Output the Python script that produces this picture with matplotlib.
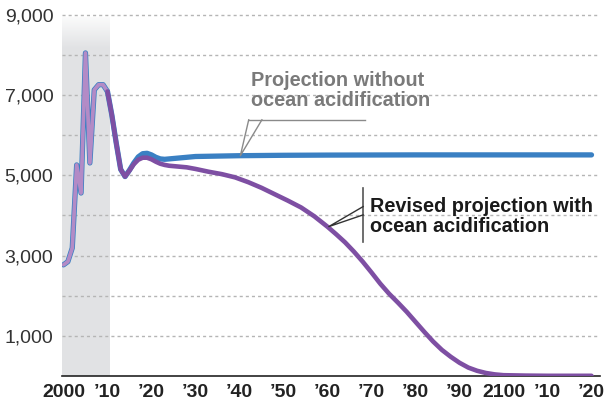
import numpy as np
import matplotlib
matplotlib.use("Agg")
import matplotlib.pyplot as plt

# ---------------- data ----------------
hist_years = [2000, 2001, 2002, 2003, 2004, 2005, 2006, 2007, 2008, 2009, 2010]
hist_values = [2770, 2850, 3190, 5260, 4560, 8050, 5310, 7130, 7260, 7260, 7090]

blue_years = [2010, 2011, 2012, 2013, 2014, 2015, 2016, 2017, 2018, 2019, 2020,
              2021, 2022, 2023, 2024, 2026, 2028, 2030, 2035, 2040, 2050, 2060,
              2080, 2100, 2120]
blue_values = [7090, 6500, 5800, 5150, 4970, 5130, 5310, 5460, 5540, 5550, 5510,
               5450, 5410, 5400, 5410, 5430, 5450, 5470, 5480, 5490, 5500, 5505,
               5510, 5510, 5510]

purple_years = [2010, 2011, 2012, 2013, 2014, 2015, 2016, 2017, 2018, 2019, 2020,
                2021, 2022, 2023, 2024, 2026, 2028, 2030, 2033, 2036, 2039, 2042,
                2045, 2048, 2051, 2054, 2057, 2060, 2062, 2064, 2066, 2068, 2070,
                2072, 2074, 2076, 2078, 2080, 2082, 2084, 2086, 2088, 2090, 2092,
                2094, 2096, 2098, 2100, 2105, 2110, 2120]
purple_values = [7090, 6500, 5800, 5150, 4970, 5120, 5280, 5390, 5440, 5440, 5400,
                 5340, 5290, 5260, 5240, 5220, 5200, 5160, 5090, 5030, 4950, 4830,
                 4690, 4530, 4370, 4200, 3980, 3720, 3530, 3330, 3100, 2850, 2580,
                 2300, 2050, 1830, 1600, 1350, 1100, 860, 650, 480, 330, 210,
                 130, 75, 40, 20, 10, 5, 5]

ytick_values = [1000, 3000, 5000, 7000, 9000]
ytick_labels = ["1,000", "3,000", "5,000", "7,000", "9,000"]
xtick_years = [2000, 2010, 2020, 2030, 2040, 2050, 2060, 2070, 2080, 2090, 2100, 2110, 2120]
xtick_labels = ["2000", "\u201910", "\u201920", "\u201930", "\u201940", "\u201950", "\u201960",
                "\u201970", "\u201980", "\u201990", "2100", "\u201910", "\u201920"]

label_blue = ["Projection without", "ocean acidification"]
label_purple = ["Revised projection with", "ocean acidification"]

# ---------------- style ----------------
plt.rcParams['font.family'] = ['Liberation Sans', 'DejaVu Sans']

BLUE = '#3a80c3'
PURPLE = '#7e4fa3'
LAVENDER = '#b38bc6'

fig = plt.figure(figsize=(6.07, 4.08), dpi=100)
ax = fig.add_axes([61.7 / 607, 32 / 408, 538.6 / 607, 376 / 408])
x0, x1 = 1999.6, 2122.0
y0, y1 = 0, 9370
ax.set_xlim(x0, x1)
ax.set_ylim(y0, y1)

# shaded historical band with fade to white at top
n = 400
grad = np.ones((n, 2, 3))
base = np.array([0.886, 0.890, 0.898])
vals = np.linspace(0, 9370, n)[:, None]
fade = np.clip((vals - 8200) / (8950 - 8200), 0, 1) * 0.85
fade = np.where(vals > 8950, 1.0, fade)
col = base[None, :] * (1 - fade) + np.ones(3)[None, :] * fade
grad[:, 0, :] = col
grad[:, 1, :] = col
ax.imshow(grad, extent=[1999.6, 2010.3, 0, 9370], origin='lower', aspect='auto',
          zorder=0, interpolation='bilinear')

# gridlines
for v in range(1000, 10000, 1000):
    ax.axhline(v, color='#b5b5b5', lw=1.0, ls=(0, (2.2, 2.2)), zorder=1)

# lines
ax.plot(hist_years, hist_values, color=BLUE, lw=3.8, solid_joinstyle='round',
        solid_capstyle='round', zorder=3)
ax.plot(hist_years, hist_values, color=LAVENDER, lw=2.7, solid_joinstyle='round',
        solid_capstyle='round', zorder=4)
ax.plot(blue_years, blue_values, color=BLUE, lw=3.8, solid_joinstyle='round',
        solid_capstyle='round', zorder=3)
ax.plot(purple_years, purple_values, color=PURPLE, lw=3.3, solid_joinstyle='round',
        solid_capstyle='round', zorder=4)

# spines / ticks
for s in ['top', 'right', 'left']:
    ax.spines[s].set_visible(False)
ax.spines['bottom'].set_color('#222222')
ax.spines['bottom'].set_linewidth(1.2)
ax.spines['bottom'].set_zorder(2)

ax.set_yticks(ytick_values)
ax.set_yticklabels(ytick_labels, fontsize=14, color='#333333')
ax.set_xticks(xtick_years)
ax.set_xticklabels(xtick_labels, fontsize=14, color='#222222', fontweight='bold')
ax.tick_params(axis='both', length=0)
ax.tick_params(axis='y', pad=6)
ax.tick_params(axis='x', pad=6)

# annotations
ax.text(2042.7, 7232, label_blue[0], fontsize=14.3, fontweight='bold', color='#7a7a7a',
        va='baseline', ha='left', zorder=5)
ax.text(2042.7, 6716, label_blue[1], fontsize=14.3, fontweight='bold', color='#7a7a7a',
        va='baseline', ha='left', zorder=5)
ax.plot([2042.1, 2068.5], [6384, 6384], color='#8a8a8a', lw=1.0, zorder=5)
ax.plot([2042.1, 2040.2, 2045.1], [6384, 5490, 6384], color='#8a8a8a', lw=1.0, zorder=5)

ax.text(2069.7, 4097, label_purple[0], fontsize=14.3, fontweight='bold', color='#1a1a1a',
        va='baseline', ha='left', zorder=5)
ax.text(2069.7, 3600, label_purple[1], fontsize=14.3, fontweight='bold', color='#1a1a1a',
        va='baseline', ha='left', zorder=5)
ax.plot([2068.1, 2068.1], [3349, 4681], color='#555555', lw=1.2, zorder=5)
ax.plot([2068.1, 2060.3, 2068.1], [4222, 3723, 4015], color='#333333', lw=1.0, zorder=5)

fig.savefig('out.png', dpi=100)
